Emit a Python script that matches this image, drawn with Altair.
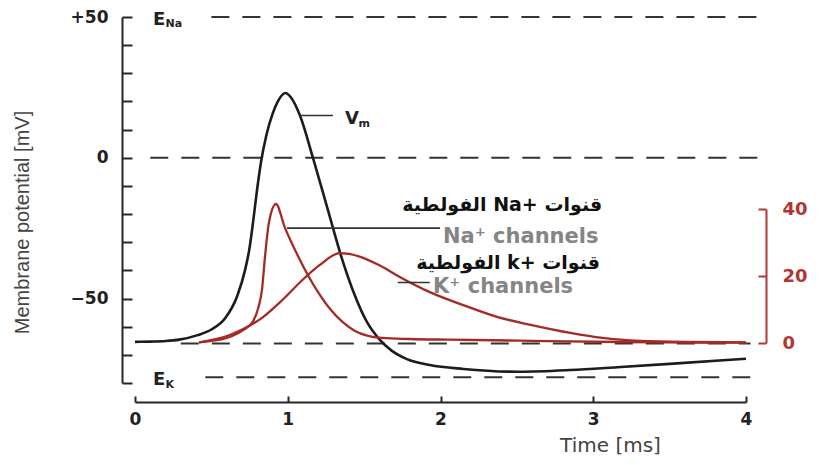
import altair as alt
import pandas as pd

# ---------------- data ----------------
vm_time = [0.0, 0.10, 0.20, 0.29, 0.41, 0.50, 0.59, 0.67, 0.72, 0.75, 0.775, 0.80, 0.825,
           0.86, 0.90, 0.94, 0.985, 1.02, 1.08, 1.165, 1.26, 1.35, 1.44, 1.52, 1.60, 1.68,
           1.78, 1.93, 2.15, 2.52, 2.85, 3.18, 3.50, 4.0]
vm_mv = [-65.4, -65.3, -65.1, -64.6, -63.0, -61.0, -57.0, -49.0, -40.0, -32.0, -22.0, -11.0,
         -1.5, 8.0, 15.5, 20.5, 23.0, 21.5, 15.0, 0.0, -18.0, -35.0, -49.0, -58.5, -64.5,
         -68.5, -71.5, -73.6, -75.0, -76.0, -75.4, -74.3, -73.2, -71.4]

na_time = [0.42, 0.60, 0.71, 0.773, 0.81, 0.831, 0.851, 0.877, 0.923, 0.98, 1.07, 1.19, 1.28,
           1.36, 1.44, 1.52, 1.62, 1.80, 2.06, 2.52, 3.18, 4.0]
na_cond = [0.2, 1.5, 3.9, 6.5, 11.0, 15.8, 25.7, 36.0, 41.5, 34.6, 25.7, 15.8, 10.0, 6.2, 3.6,
           2.2, 1.5, 1.2, 1.0, 0.7, 0.3, 0.1]

k_time = [0.42, 0.62, 0.84, 0.95, 1.11, 1.21, 1.34, 1.47, 1.60, 1.73, 1.93, 2.15, 2.37, 2.59,
          2.85, 3.06, 3.31, 3.60, 4.0]
k_cond = [0.2, 2.4, 7.8, 12.2, 19.4, 23.3, 26.8, 25.8, 23.2, 19.8, 15.2, 11.3, 7.8, 5.4, 3.0,
          1.5, 0.6, 0.3, 0.2]

ref_mv = [50, 0, -66, -78]
ref_start = [0.50, 0.10, 0.30, 0.46]
ref_end = [4.08, 4.08, 4.03, 4.03]

mv_ticks = list(range(-80, 51, 10))
mv_labels = [-50, 0, 50]
time_ticks = [0, 1, 2, 3, 4]
cond_ticks = [0, 20, 40]

leader_start = [1.08, 0.995, 1.72]
leader_end = [1.296, 1.997, 1.93]
leader_mv = [15, -25, -44.3]

big_text = ["E", "E", "V"]
big_time = [0.118, 0.118, 1.375]
big_mv = [47.1, -80.7, 12.1]
sub_text = ["Na", "K", "m"]
sub_time = [0.200, 0.200, 1.463]
sub_mv = [46.3, -81.7, 11.0]

en_text = ["Na\u207a channels", "K\u207a channels"]
en_time = [2.016, 1.951]
en_mv = [-30.4, -47.9]

ar_text = ["\u202bقنوات +Na الفولطية\u202c", "\u202bقنوات +k الفولطية\u202c"]
ar_time = [3.058, 3.044]
ar_mv = [-18.9, -39.6]

# ---------------- frames ----------------
vm_df = pd.DataFrame({"t": vm_time, "v": vm_mv})
na_df = pd.DataFrame({"t": na_time, "g": na_cond})
k_df = pd.DataFrame({"t": k_time, "g": k_cond})
ref_df = pd.DataFrame({"v": ref_mv, "t0": ref_start, "t1": ref_end})
lead_df = pd.DataFrame({"t0": leader_start, "t1": leader_end, "v": leader_mv})
big_df = pd.DataFrame({"t": big_time, "v": big_mv, "s": big_text})
sub_df = pd.DataFrame({"t": sub_time, "v": sub_mv, "s": sub_text})
en_df = pd.DataFrame({"t": en_time, "v": en_mv, "s": en_text})
ar_df = pd.DataFrame({"t": ar_time, "v": ar_mv, "s": ar_text})

RED = "#b3362f"
CURVE_RED = "#a52a25"
INK = "#262626"
FONT = "DejaVu Sans"
NARROW = "'Liberation Sans Narrow', 'Liberation Sans', sans-serif"

xs = alt.Scale(domain=[0, 4], nice=False, zero=False)
ys = alt.Scale(domain=[-80, 50], nice=False, zero=False)
cs = alt.Scale(domain=[0, 40], range=[326, 192], nice=False, zero=False)

# dashed reference lines + inward tick axes (left & bottom)
dash = alt.Chart(ref_df).mark_rule(color="#333333", strokeWidth=2, strokeDash=[18, 13]).encode(
    x=alt.X("t0:Q", scale=xs, axis=alt.Axis(orient="bottom", values=time_ticks, domain=False,
                                             labels=False, ticks=True, tickSize=6, tickWidth=2,
                                             tickColor=INK, offset=13, title=None, grid=False)),
    x2="t1:Q",
    y=alt.Y("v:Q", scale=ys, axis=alt.Axis(orient="left", values=mv_ticks, domain=False,
                                            labels=False, ticks=True, tickSize=10, tickWidth=2,
                                            tickColor=INK, offset=3, title=None, grid=False)),
)

vm = alt.Chart(vm_df).mark_line(color="#1c1c1c", strokeWidth=2.6, interpolate="monotone").encode(
    x=alt.X("t:Q", scale=xs, axis=alt.Axis(
        orient="bottom", values=time_ticks, ticks=False, domain=True, domainColor=INK,
        domainWidth=2, offset=19, labelFont=FONT, labelFontSize=17, labelFontWeight="bold",
        labelColor="#222222", labelPadding=9, labelFlush=False, labelOverlap=False,
        title="Time [ms]", titleFont=FONT, titleFontSize=20, titleFontWeight="normal",
        titleColor="#444444", titleX=475, titleY=43, titleBaseline="middle",
        titleAlign="center", grid=False)),
    y=alt.Y("v:Q", scale=ys, axis=alt.Axis(
        orient="left", values=mv_labels, ticks=False, domain=True, domainColor=INK,
        domainWidth=2, offset=13, labelFont=FONT, labelFontSize=17, labelFontWeight="bold",
        labelColor="#222222", labelPadding=14, labelOverlap=False, labelFlush=False,
        labelExpr="datum.value > 0 ? '+' + datum.label : datum.label",
        title="Membrane potential [mV]", titleFont=NARROW,
        titleFontSize=20, titleFontWeight="normal", titleColor="#444444", titleAngle=270,
        titleX=-100, titleY=205, titleAlign="center", titleBaseline="middle", grid=False)),
)

na = alt.Chart(na_df).mark_line(color=CURVE_RED, strokeWidth=2.3, interpolate="monotone").encode(
    x=alt.X("t:Q", scale=xs, axis=None),
    y=alt.Y("g:Q", scale=cs, axis=alt.Axis(
        orient="right", values=cond_ticks, ticks=False, domain=True, domainColor=RED,
        domainWidth=2, offset=20, labelFont=FONT, labelFontSize=18, labelFontWeight="bold",
        labelColor=RED, labelPadding=16, labelOverlap=False, labelFlush=False,
        title=None, grid=False)),
)

k = alt.Chart(k_df).mark_line(color=CURVE_RED, strokeWidth=2.3, interpolate="monotone").encode(
    x=alt.X("t:Q", scale=xs, axis=None),
    y=alt.Y("g:Q", scale=cs, axis=alt.Axis(
        orient="right", values=cond_ticks, ticks=True, tickSize=8, tickWidth=2,
        tickColor=RED, domain=False, labels=False, offset=12, title=None, grid=False)),
)

leaders = alt.Chart(lead_df).mark_rule(color="#333333", strokeWidth=1.6).encode(
    x=alt.X("t0:Q", scale=xs, axis=None), x2="t1:Q",
    y=alt.Y("v:Q", scale=ys, axis=None),
)

big = alt.Chart(big_df).mark_text(font=FONT, fontSize=18, fontWeight="bold", color="#222222",
                                  align="left", baseline="alphabetic").encode(
    x=alt.X("t:Q", scale=xs, axis=None), y=alt.Y("v:Q", scale=ys, axis=None), text="s:N")

sub = alt.Chart(sub_df).mark_text(font=FONT, fontSize=11, fontWeight="bold", color="#222222",
                                  align="left", baseline="alphabetic").encode(
    x=alt.X("t:Q", scale=xs, axis=None), y=alt.Y("v:Q", scale=ys, axis=None), text="s:N")

en = alt.Chart(en_df).mark_text(font=FONT, fontSize=21, fontWeight="bold", color="#858585",
                                align="left", baseline="alphabetic").encode(
    x=alt.X("t:Q", scale=xs, axis=None), y=alt.Y("v:Q", scale=ys, axis=None), text="s:N")

ar = alt.Chart(ar_df).mark_text(font=FONT, fontSize=19, fontWeight="bold", color="#111111",
                                align="right", baseline="alphabetic").encode(
    x=alt.X("t:Q", scale=xs, axis=None), y=alt.Y("v:Q", scale=ys, axis=None), text="s:N")

chart = alt.layer(dash, vm, na, k, leaders, big, sub, en, ar).resolve_scale(
    y="independent").resolve_axis(x="independent", y="independent").properties(
    width=611, height=366,
    autosize=alt.AutoSizeParams(type="none"),
    padding={"left": 127, "top": 9, "right": 70, "bottom": 80},
    background="white",
).configure_view(stroke=None)

chart.save("out.html", embed_options={"renderer": "svg", "actions": False})
